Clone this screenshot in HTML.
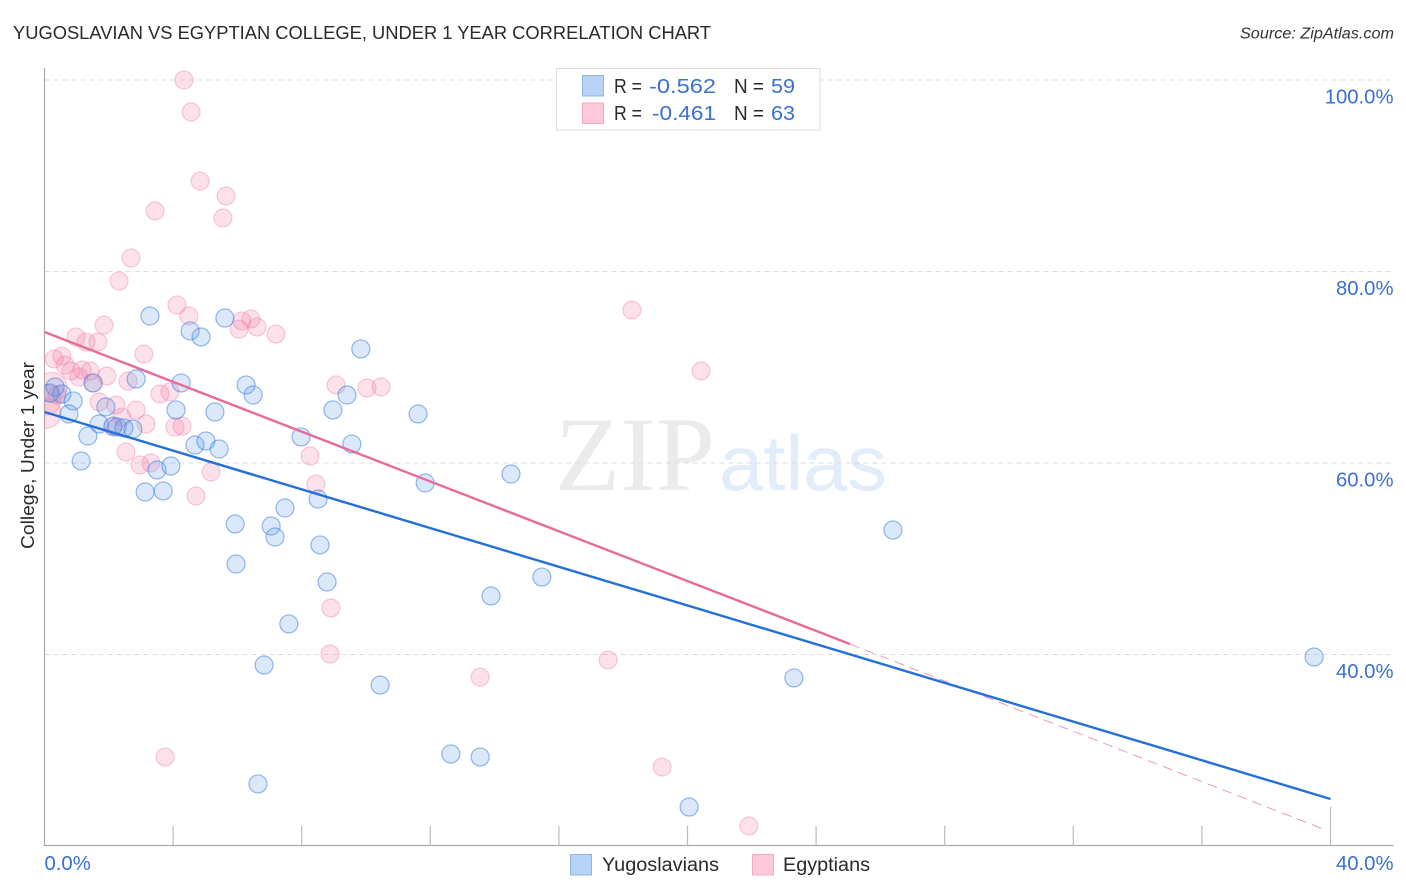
<!DOCTYPE html>
<html lang="en">
<head>
<meta charset="utf-8">
<title>Yugoslavian vs Egyptian College, Under 1 Year Correlation Chart</title>
<style>
html,body{margin:0;padding:0;background:#fff;}
body{width:1406px;height:892px;overflow:hidden;}
svg{display:block;font-family:"Liberation Sans",sans-serif;}
</style>
</head>
<body>
<svg id="chart" xmlns="http://www.w3.org/2000/svg" width="1406" height="892" viewBox="0 0 1406 892">
  <defs>
    <clipPath id="plot-clip"><rect x="44.5" y="60" width="1350" height="786"/></clipPath>
  </defs>
  <rect x="0" y="0" width="1406" height="892" fill="#fff"/>
  <text x="13" y="39" font-size="18.5" fill="#2a2a2a" textLength="698" lengthAdjust="spacingAndGlyphs">YUGOSLAVIAN VS EGYPTIAN COLLEGE, UNDER 1 YEAR CORRELATION CHART</text>
  <text x="1394" y="38.5" font-size="15.5" font-style="italic" fill="#333" text-anchor="end" textLength="154" lengthAdjust="spacingAndGlyphs">Source: ZipAtlas.com</text>

  <g>
    <text x="555" y="490" font-family="'Liberation Serif',serif" font-size="106" fill="#ebebeb" textLength="160" lengthAdjust="spacingAndGlyphs">ZIP</text>
    <text x="719" y="490" font-size="78" fill="#e3ecfa" textLength="168" lengthAdjust="spacingAndGlyphs">atlas</text>
  </g>

  <g id="grid"></g>
  <g id="axes"></g>
  <text transform="translate(34,455.5) rotate(-90)" font-size="18.5" fill="#2a2a2a" text-anchor="middle" textLength="187" lengthAdjust="spacingAndGlyphs">College, Under 1 year</text>
  <g id="y-labels"></g>
  <g id="x-labels"></g>
  <g id="points" clip-path="url(#plot-clip)"></g>
  <g id="lines"></g>

  <g>
    <rect x="556.5" y="68.5" width="263.5" height="61.5" fill="#fff" stroke="#ddd" stroke-width="1"/>
    <rect x="582.5" y="75.5" width="21" height="20.5" fill="#b8d3f6" stroke="#8db5ea" stroke-width="1"/>
    <rect x="582.5" y="103" width="21" height="20.5" fill="#fcc8da" stroke="#f3a9c3" stroke-width="1"/>
    <g font-size="20" fill="#2a2a2a">
      <text x="614" y="93" textLength="28" lengthAdjust="spacingAndGlyphs">R =</text>
      <text x="649" y="93" fill="#3a70d2" textLength="67" lengthAdjust="spacingAndGlyphs">-0.562</text>
      <text x="734" y="93" textLength="30" lengthAdjust="spacingAndGlyphs">N =</text>
      <text x="771" y="93" fill="#3a70d2" textLength="24" lengthAdjust="spacingAndGlyphs">59</text>
      <text x="614" y="120" textLength="28" lengthAdjust="spacingAndGlyphs">R =</text>
      <text x="652" y="120" fill="#3a70d2" textLength="64" lengthAdjust="spacingAndGlyphs">-0.461</text>
      <text x="734" y="120" textLength="30" lengthAdjust="spacingAndGlyphs">N =</text>
      <text x="771" y="120" fill="#3a70d2" textLength="24" lengthAdjust="spacingAndGlyphs">63</text>
    </g>
  </g>

  <g>
    <rect x="570.5" y="854.5" width="21" height="20.5" fill="#b8d3f6" stroke="#8db5ea" stroke-width="1"/>
    <text x="602" y="871" font-size="19" fill="#2a2a2a" textLength="117" lengthAdjust="spacingAndGlyphs">Yugoslavians</text>
    <rect x="752.5" y="854.5" width="21" height="20.5" fill="#fcc8da" stroke="#f3a9c3" stroke-width="1"/>
    <text x="783" y="871" font-size="19" fill="#2a2a2a" textLength="87" lengthAdjust="spacingAndGlyphs">Egyptians</text>
  </g>
</svg>

<script>
// Chart data (x = percent along the horizontal axis, y = College, Under 1 year percent)
const yugoslavianX = [3.28,4.53,4.87,5.61,9.84,2.85,4.25,6.27,6.49,0.33,0.54,0.89,0.76,1.91,4.09,5.30,8.97,9.41,11.62,1.51,1.70,2.13,2.26,2.47,2.75,1.35,4.68,5.02,5.43,7.98,9.56,1.14,3.50,3.93,3.13,3.69,11.84,14.51,7.48,8.51,5.93,7.05,7.17,26.39,8.57,5.96,8.79,15.47,13.89,7.60,6.83,10.44,23.31,39.49,12.64,13.55,6.64,20.05,0.17];
const yugoslavianY = [75.35,73.79,73.16,75.14,71.91,68.77,68.36,68.15,67.10,67.94,67.21,66.48,65.12,65.85,65.54,65.33,65.54,67.10,65.12,68.36,64.07,63.86,63.76,63.66,63.55,62.82,61.88,62.30,61.46,62.72,61.98,60.21,59.27,59.69,56.97,57.08,57.91,58.85,55.30,56.24,53.63,53.42,52.27,53.00,51.44,49.45,47.57,48.09,46.11,43.19,38.90,36.81,37.55,39.74,29.61,29.30,26.48,24.07,67.31];
const egyptianX = [4.34,4.56,4.84,5.65,3.44,5.55,2.69,2.32,18.27,4.12,4.49,1.85,0.98,1.29,1.66,3.09,6.05,6.14,6.42,6.61,7.20,0.30,0.54,0.64,0.82,1.17,1.42,1.07,1.94,2.60,1.51,20.42,9.07,10.03,10.47,0.39,1.70,2.22,2.85,3.59,3.90,2.41,3.16,2.13,4.06,4.28,2.53,2.97,3.31,5.18,4.71,8.26,8.44,8.91,8.88,17.53,13.55,3.75,19.21,21.91];
const egyptianY = [100,96.66,89.45,87.89,86.32,85.59,81.41,79.01,75.98,76.50,75.35,74.41,73.16,72.64,72.64,71.38,73.99,74.83,75.04,74.20,73.47,70.86,71.17,70.23,69.61,69.71,69.61,68.98,69.09,68.56,68.36,69.61,68.15,67.83,67.94,67.10,66.37,66.06,65.54,67.21,67.42,64.80,64.07,63.76,63.76,63.86,61.15,59.79,60.00,59.06,56.55,60.73,57.81,44.86,40.05,39.43,37.65,29.30,28.25,22.09];
// Larger-population points near the origin
const egyptianHeavyX = [0.23,0.05,0.05];
const egyptianHeavyY = [67.9,65.2,66.6];

// Trend lines (start and end of each fit)
const yugoslavianTrendX = [0,40];
const yugoslavianTrendY = [65.33,24.91];
const egyptianTrendX = [0,25.05];
const egyptianTrendY = [73.68,41.1];
const egyptianExtensionX = [25.05,39.85];
const egyptianExtensionY = [41.1,21.67];

// Axis ticks
const yTicks = [100,80,60,40];
const yTickLabels = ["100.0%","80.0%","60.0%","40.0%"];
const xTicks = [4,8,12,16,20,24,28,32,36,40];
const xEndTicks = [0,40];
const xEndLabels = ["0.0%","40.0%"];

// Axis functions
const xScale = v => 44.5 + v * 32.15;
const yScale = v => 80 + (100 - v) * 9.575;

const NS = "http://www.w3.org/2000/svg";
function make(tag, attrs, parent) {
  const el = document.createElementNS(NS, tag);
  for (const k in attrs) el.setAttribute(k, attrs[k]);
  parent.appendChild(el);
  return el;
}

const gridG = document.getElementById("grid");
const axesG = document.getElementById("axes");
const yLabG = document.getElementById("y-labels");
const xLabG = document.getElementById("x-labels");
const pointsG = document.getElementById("points");
const linesG = document.getElementById("lines");

yTicks.forEach((t, i) => {
  const line = make("line", {x1:44.5, x2:1393, y1:yScale(t), y2:yScale(t), stroke:"#ddd", "stroke-width":1, "stroke-dasharray":"5 4"}, gridG);
  
  
  const label = make("text", {x:1393.5, y:yScale(t) + 23.5, "font-size":20.3, fill:"#3a70d2", "text-anchor":"end"}, yLabG);
  label.textContent = yTickLabels[i];
  
  
});

const yAxis = make("line", {x1:44.5, x2:44.5, y1:68, y2:846, stroke:"#aaa", "stroke-width":1.2}, axesG);


const xAxis = make("line", {x1:44, x2:1393.5, y1:845.5, y2:845.5, stroke:"#aaa", "stroke-width":1.2}, axesG);



xTicks.forEach(t => {
  const top = t === 40 ? 807 : 826;
  const tick = make("line", {x1:xScale(t), x2:xScale(t), y1:top, y2:845.5, stroke:"#bbb", "stroke-width":1.2}, axesG);
  
  
});

xEndTicks.forEach((t, i) => {
  const anchorEnd = i === xEndTicks.length - 1;
  const label = make("text", {x: anchorEnd ? 1393.5 : xScale(t), y:870, "font-size":20.3, fill:"#3a70d2", "text-anchor": anchorEnd ? "end" : "start"}, xLabG);
  label.textContent = xEndLabels[i];
  
  
});

function drawPoints(xs, ys, r, fill, stroke, strokeOpacity, name) {
  xs.forEach((x, i) => {
    const c = make("circle", {cx:xScale(x), cy:yScale(ys[i]), r:r, fill:fill, "fill-opacity":0.22, stroke:stroke, "stroke-opacity":strokeOpacity, "stroke-width":1.2}, pointsG);
    
    
  });
}
drawPoints(egyptianHeavyX, egyptianHeavyY, 15, "#f2709f", "#ee7ba5", 0.38, "point-egyptian-large");
drawPoints(egyptianX, egyptianY, 9, "#f2709f", "#ee7ba5", 0.38, "point-egyptian");
drawPoints(yugoslavianX, yugoslavianY, 9, "#5b97e8", "#3f7fdc", 0.55, "point-yugoslavian");

function drawLine(xs, ys, stroke, width, dash, name) {
  const attrs = {x1:xScale(xs[0]), y1:yScale(ys[0]), x2:xScale(xs[1]), y2:yScale(ys[1]), stroke:stroke, "stroke-width":width};
  if (dash) attrs["stroke-dasharray"] = dash;
  const l = make("line", attrs, linesG);
  
  
}
drawLine(egyptianExtensionX, egyptianExtensionY, "#ec8fb0", 0.9, "10 6", "trend-line-egyptian-extension");
drawLine(egyptianTrendX, egyptianTrendY, "#e86a98", 2.4, null, "trend-line-egyptian");
drawLine(yugoslavianTrendX, yugoslavianTrendY, "#2470d8", 2.4, null, "trend-line-yugoslavian");
</script>
</body>
</html>
